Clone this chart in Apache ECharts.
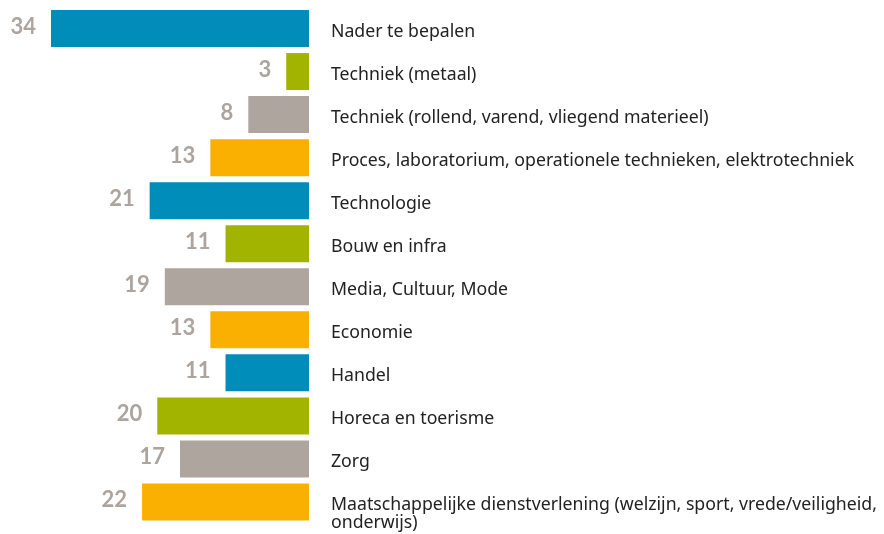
<!DOCTYPE html>
<html>
<head>
<meta charset="utf-8">
<script src="https://cdn.jsdelivr.net/npm/echarts@6/dist/echarts.min.js"></script>
<style>
  html, body { margin: 0; padding: 0; background: #fff; }
  #chart { width: 884px; height: 534px; }
</style>
</head>
<body>
<div id="chart"></div>
<script>
  const categories = [
    "Nader te bepalen",
    "Techniek (metaal)",
    "Techniek (rollend, varend, vliegend materieel)",
    "Proces, laboratorium, operationele technieken, elektrotechniek",
    "Technologie",
    "Bouw en infra",
    "Media, Cultuur, Mode",
    "Economie",
    "Handel",
    "Horeca en toerisme",
    "Zorg",
    "Maatschappelijke dienstverlening (welzijn, sport, vrede/veiligheid,\nonderwijs)"
  ];
  const values = [34, 3, 8, 13, 21, 11, 19, 13, 11, 20, 17, 22];
  const palette = ["#008db9", "#a2b400", "#aea59f", "#f9b000"];

  const chart = echarts.init(document.getElementById("chart"));

  const option = {
    animation: false,
    grid: {
      left: 51,
      right: 575,
      top: 7,
      bottom: 10.5
    },
    xAxis: {
      type: "value",
      min: 0,
      max: 34,
      inverse: true,
      show: false
    },
    yAxis: {
      type: "category",
      position: "right",
      inverse: true,
      data: categories,
      axisLine: { show: false },
      axisTick: { show: false },
      axisLabel: {
        interval: 0,
        showMinLabel: true,
        showMaxLabel: true,
        hideOverlap: false,
        margin: 22,
        align: "left",
        color: "#222",
        fontFamily: "Noto Sans",
        fontSize: 17.7,
        formatter: v => {
          const lines = v.split("\n");
          if (lines.length === 1) return "{t|" + v + "}";
          // wrapped label: keep its first line level with the bar
          return "{f|" + lines[0] + "}\n{s|" + lines[1] + "}";
        },
        rich: {
          t: { padding: [6, 0, 0, 0], lineHeight: 20 },
          f: { padding: [26, 0, 0, 0], lineHeight: 20 },
          s: { padding: [22, 0, 0, 0], lineHeight: 20 }
        }
      }
    },
    series: [
      {
        type: "bar",
        barCategoryGap: "14%",
        data: values.map((v, i) => ({
          value: v,
          itemStyle: { color: palette[i % palette.length] }
        })),
        label: {
          show: true,
          position: "left",
          distance: 15,
          color: "#aca49f",
          fontFamily: "Lato",
          fontWeight: "bold",
          fontSize: 22,
          offset: [0, -2]
        }
      }
    ]
  };

  chart.setOption(option);
</script>
</body>
</html>
